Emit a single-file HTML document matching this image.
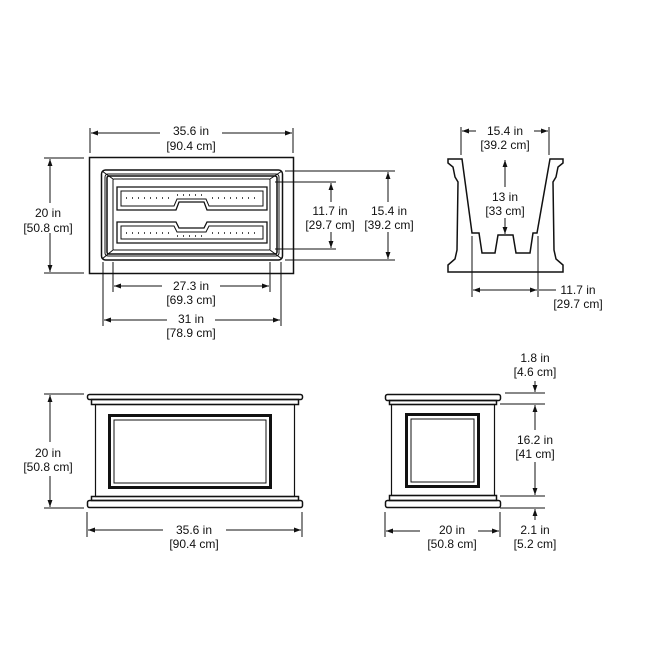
<!DOCTYPE html>
<html><head><style>
html,body{margin:0;padding:0;background:#fff;}
svg{display:block;}
text{font-family:"Liberation Sans",sans-serif;font-size:12px;fill:#111;text-anchor:middle;}
</style></head><body>
<svg width="653" height="653" viewBox="0 0 653 653" xmlns="http://www.w3.org/2000/svg">
<defs>
<marker id="a" viewBox="0 0 10 10" refX="10" refY="5" markerWidth="7" markerHeight="7" orient="auto-start-reverse"><path d="M0,1.5 L10,5 L0,8.5 z" fill="#111"/></marker>
</defs>
<g stroke="#111" fill="none" stroke-width="1">
<!-- TOP VIEW -->
<rect x="89.5" y="157.5" width="204" height="116" stroke-width="1.5"/>
<rect x="101.5" y="170" width="181" height="90" rx="4" stroke-width="1.5"/>
<rect x="105" y="174" width="174" height="82" rx="3"/>
<rect x="107" y="176" width="170" height="78" rx="2" stroke-width="1.5"/>
<rect x="113" y="179" width="157" height="71" rx="1"/>
<line x1="102" y1="171" x2="113" y2="179"/><line x1="282" y1="171" x2="270" y2="179"/>
<line x1="102" y1="259" x2="113" y2="250"/><line x1="282" y1="259" x2="270" y2="250"/>
<path d="M117,187 H267 V210 H207 L204,202 H179 L176,210 H117 Z" stroke-width="1.3"/>
<path d="M121,191 H263 V206 H209 L206,199 H177 L174,206 H121 Z"/>
<path d="M117,222 H176 L179,228 H204 L207,222 H267 V243 H117 Z" stroke-width="1.3"/>
<path d="M121,226 H174 L177,232 H206 L209,226 H263 V239 H121 Z"/>
<line x1="126" y1="198" x2="170" y2="198" stroke-dasharray="1,5" stroke-width="1.5"/>
<line x1="212" y1="198" x2="258" y2="198" stroke-dasharray="1,5" stroke-width="1.5"/>
<line x1="177" y1="195" x2="206" y2="195" stroke-dasharray="1,5" stroke-width="1.5"/>
<line x1="126" y1="233" x2="170" y2="233" stroke-dasharray="1,5" stroke-width="1.5"/>
<line x1="212" y1="233" x2="258" y2="233" stroke-dasharray="1,5" stroke-width="1.5"/>
<line x1="177" y1="236" x2="206" y2="236" stroke-dasharray="1,5" stroke-width="1.5"/>
<!-- top dims -->
<line x1="90" y1="128" x2="90" y2="153"/><line x1="293" y1="128" x2="293" y2="153"/>
<line x1="91" y1="133" x2="160" y2="133" marker-start="url(#a)"/><line x1="222" y1="133" x2="292" y2="133" marker-end="url(#a)"/>
<line x1="44" y1="158" x2="84" y2="158"/><line x1="44" y1="273" x2="84" y2="273"/>
<line x1="50" y1="159" x2="50" y2="203" marker-start="url(#a)"/><line x1="50" y1="233" x2="50" y2="272" marker-end="url(#a)"/>
<line x1="285" y1="171" x2="395" y2="171"/><line x1="285" y1="260" x2="395" y2="260"/>
<line x1="275" y1="182" x2="336" y2="182"/><line x1="275" y1="249" x2="336" y2="249"/>
<line x1="331" y1="183" x2="331" y2="202" marker-start="url(#a)"/><line x1="331" y1="232" x2="331" y2="248" marker-end="url(#a)"/>
<line x1="388" y1="172" x2="388" y2="202" marker-start="url(#a)"/><line x1="388" y1="232" x2="388" y2="259" marker-end="url(#a)"/>
<line x1="113" y1="262" x2="113" y2="292"/><line x1="270" y1="262" x2="270" y2="292"/>
<line x1="103" y1="262" x2="103" y2="326"/><line x1="281" y1="262" x2="281" y2="326"/>
<line x1="114" y1="286" x2="162" y2="286" marker-start="url(#a)"/><line x1="220" y1="286" x2="269" y2="286" marker-end="url(#a)"/>
<line x1="104" y1="320" x2="167" y2="320" marker-start="url(#a)"/><line x1="215" y1="320" x2="280" y2="320" marker-end="url(#a)"/>
<!-- END SECTION -->
<path d="M448,159 L462,159 L472,233 L479,233 L482,253 L495,253 L498,235 L513,235 L516,253 L530,253 L533,233 L537,233 L550,159 L563,159 L563,163 L558,167 L556,177 L553,182 L554,250 L556,259 L563,265 L563,272 L448,272 L448,265 L455,259 L457,250 L458,182 L455,177 L453,167 L448,163 Z" stroke-width="1.5"/>
<line x1="461" y1="127" x2="461" y2="155"/><line x1="549" y1="127" x2="549" y2="155"/>
<line x1="462" y1="131" x2="476" y2="131" marker-start="url(#a)"/><line x1="534" y1="131" x2="548" y2="131" marker-end="url(#a)"/>
<line x1="505" y1="160" x2="505" y2="187" marker-start="url(#a)"/><line x1="505" y1="218" x2="505" y2="234" marker-end="url(#a)"/>
<line x1="472" y1="236" x2="472" y2="297"/><line x1="538" y1="236" x2="538" y2="297"/>
<line x1="473" y1="290" x2="537" y2="290" marker-start="url(#a)" marker-end="url(#a)"/>
<line x1="539" y1="290" x2="556" y2="290"/>
<!-- FRONT VIEW -->
<rect x="87.5" y="394.5" width="215" height="5" rx="2" stroke-width="1.5"/>
<rect x="91.5" y="399.5" width="207" height="5" stroke-width="1.5"/>
<rect x="95.5" y="404.5" width="199" height="92" stroke-width="1.2"/>
<rect x="109.5" y="415.5" width="161" height="72" stroke-width="3"/>
<rect x="114" y="420" width="152" height="63"/>
<rect x="91.5" y="496.5" width="207" height="4" stroke-width="1.5"/>
<rect x="87.5" y="500.5" width="215" height="7" rx="2" stroke-width="1.5"/>
<line x1="44" y1="394" x2="84" y2="394"/><line x1="44" y1="508" x2="84" y2="508"/>
<line x1="50" y1="395" x2="50" y2="442" marker-start="url(#a)"/><line x1="50" y1="476" x2="50" y2="507" marker-end="url(#a)"/>
<line x1="87" y1="512" x2="87" y2="537"/><line x1="302" y1="512" x2="302" y2="537"/>
<line x1="88" y1="530" x2="163" y2="530" marker-start="url(#a)"/><line x1="226" y1="530" x2="301" y2="530" marker-end="url(#a)"/>
<!-- SIDE VIEW -->
<rect x="385.5" y="394.5" width="115" height="6" rx="2" stroke-width="1.5"/>
<rect x="389.5" y="400.5" width="107" height="4" stroke-width="1.5"/>
<rect x="391.5" y="404.5" width="103" height="91" stroke-width="1.2"/>
<rect x="406.5" y="414.5" width="72" height="72" stroke-width="3"/>
<rect x="411" y="419" width="63" height="63"/>
<rect x="389.5" y="495.5" width="107" height="5" stroke-width="1.5"/>
<rect x="385.5" y="500.5" width="115" height="7" rx="2" stroke-width="1.5"/>
<line x1="505" y1="393" x2="545" y2="393"/><line x1="500" y1="404" x2="545" y2="404"/>
<line x1="500" y1="496" x2="545" y2="496"/><line x1="500" y1="508" x2="545" y2="508"/>
<line x1="535" y1="381" x2="535" y2="392" marker-end="url(#a)"/>
<line x1="535" y1="405" x2="535" y2="430" marker-start="url(#a)"/><line x1="535" y1="462" x2="535" y2="495" marker-end="url(#a)"/>
<line x1="535" y1="520" x2="535" y2="509" marker-end="url(#a)"/>
<line x1="385" y1="512" x2="385" y2="537"/><line x1="500" y1="512" x2="500" y2="537"/>
<line x1="386" y1="531" x2="420" y2="531" marker-start="url(#a)"/><line x1="478" y1="531" x2="499" y2="531" marker-end="url(#a)"/>
</g>
<text x="191" y="135">35.6 in</text><text x="191" y="150">[90.4 cm]</text>
<text x="48" y="217">20 in</text><text x="48" y="232">[50.8 cm]</text>
<text x="330" y="215">11.7 in</text><text x="330" y="229">[29.7 cm]</text>
<text x="389" y="215">15.4 in</text><text x="389" y="229">[39.2 cm]</text>
<text x="191" y="290">27.3 in</text><text x="191" y="304">[69.3 cm]</text>
<text x="191" y="323">31 in</text><text x="191" y="337">[78.9 cm]</text>
<text x="505" y="135">15.4 in</text><text x="505" y="149">[39.2 cm]</text>
<text x="505" y="201">13 in</text><text x="505" y="215">[33 cm]</text>
<text x="578" y="294">11.7 in</text><text x="578" y="308">[29.7 cm]</text>
<text x="48" y="457">20 in</text><text x="48" y="471">[50.8 cm]</text>
<text x="194" y="534">35.6 in</text><text x="194" y="548">[90.4 cm]</text>
<text x="452" y="534">20 in</text><text x="452" y="548">[50.8 cm]</text>
<text x="535" y="362">1.8 in</text><text x="535" y="376">[4.6 cm]</text>
<text x="535" y="444">16.2 in</text><text x="535" y="458">[41 cm]</text>
<text x="535" y="534">2.1 in</text><text x="535" y="548">[5.2 cm]</text>
</svg>
</body></html>
